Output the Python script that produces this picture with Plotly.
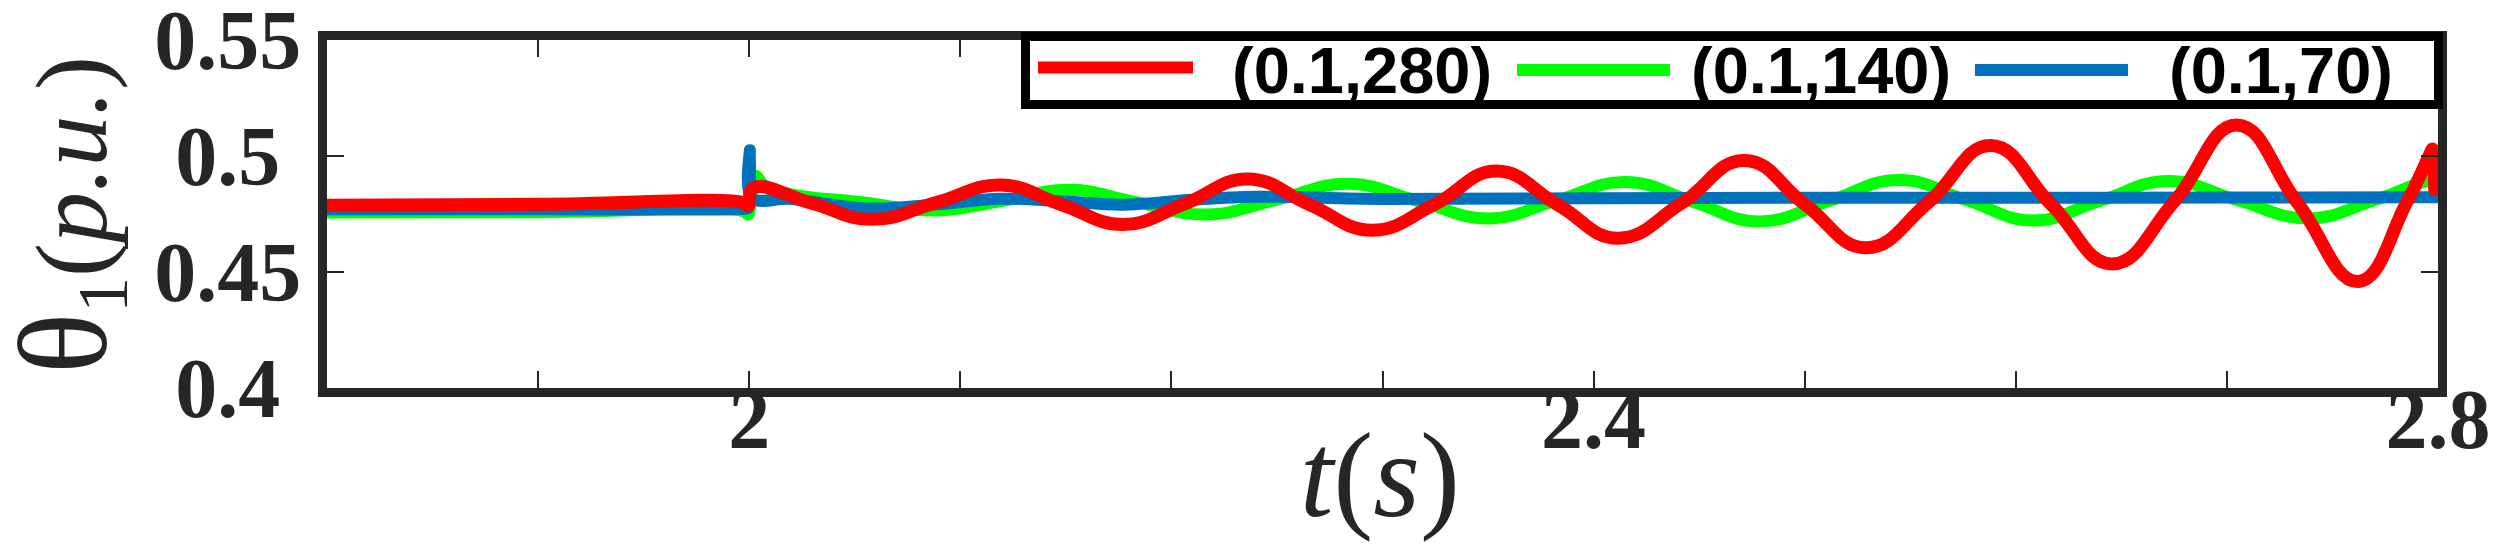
import plotly.graph_objects as go

# ---------------- data ----------------
# red  : (0.1,280)
t_red = [1.8, 1.9, 1.998, 1.9995, 2.002, 2.03, 2.058, 2.089, 2.1193, 2.148, 2.1771,
         2.2066, 2.2361, 2.2655, 2.295, 2.3245, 2.354, 2.383, 2.4116, 2.4415, 2.4715,
         2.5003, 2.5291, 2.5586, 2.5881, 2.6169, 2.6457, 2.6752, 2.7047, 2.7335, 2.7622,
         2.785, 2.796, 2.7975, 2.7985, 2.7995]
v_red = [0.4788, 0.4792, 0.4797, 0.4786, 0.4862, 0.4795, 0.4727, 0.4800, 0.4875, 0.4790, 0.4705,
         0.4795, 0.4901, 0.4790, 0.4680, 0.4790, 0.4935, 0.4790, 0.4646, 0.4795, 0.4981,
         0.4790, 0.4604, 0.4800, 0.5045, 0.4790, 0.4535, 0.4805, 0.5134, 0.4797, 0.4459,
         0.4797, 0.5005, 0.5030, 0.4855, 0.5000]

# green: (0.1,140)
t_green = [1.8, 1.9, 1.998, 1.9995, 2.0025, 2.008, 2.02, 2.0541, 2.0866, 2.119, 2.1516,
           2.184, 2.2167, 2.25, 2.2842, 2.317, 2.3503, 2.383, 2.4154, 2.447, 2.4786,
           2.5117, 2.5447, 2.5765, 2.6084, 2.64, 2.6721, 2.705, 2.7386, 2.77, 2.797, 2.7995]
v_green = [0.4757, 0.4758, 0.4760, 0.4748, 0.4915, 0.4865, 0.4835, 0.4800, 0.4765, 0.4805, 0.4854,
           0.4800, 0.4748, 0.4812, 0.4880, 0.4805, 0.4731, 0.4810, 0.4888, 0.4803, 0.4718,
           0.4807, 0.4897, 0.4810, 0.4722, 0.4807, 0.4892, 0.4810, 0.4731, 0.4810, 0.4893, 0.4880]

# blue : (0.1,70)
t_blue = [1.8, 1.9, 1.998, 1.9995, 2.0003, 2.0012, 2.02, 2.056, 2.087, 2.119, 2.148,
          2.177, 2.21, 2.24, 2.3, 2.4, 2.5, 2.6, 2.7, 2.8]
v_blue = [0.4770, 0.4771, 0.4772, 0.4775, 0.5025, 0.4820, 0.4815, 0.4774, 0.4790, 0.4816, 0.4805,
          0.4790, 0.4812, 0.4824, 0.4815, 0.4818, 0.4820, 0.4820, 0.4821, 0.4822]

series_names = ["(0.1,280)", "(0.1,140)", "(0.1,70)"]
series_colors = ["#FF0000", "#00FF00", "#0072BD"]

x_tick_vals = [1.8, 1.9, 2.0, 2.1, 2.2, 2.3, 2.4, 2.5, 2.6, 2.7, 2.8]
x_tick_text = ["", "", "2", "", "", "", "2.4", "", "", "", "2.8"]
y_tick_vals = [0.4, 0.45, 0.5, 0.55]
y_tick_text = ["0.4", "0.45", "0.5", "0.55"]
x_title = "<i>t</i>(<i>s</i>)"
y_title = "<span style='font-size:128px'>θ</span><sub>1</sub>(<i>p.u.</i>)"

x_range = [1.8, 2.8]
y_range = [0.4, 0.55]

# ---------------- layout geometry ----------------
PAGE_OFF = 8                      # default body margin of the html page
FIG_W, FIG_H = 2499 - PAGE_OFF, 551 - PAGE_OFF
M_L, M_R, M_T, M_B = 319, 61, 32, 163
PLOT_W = FIG_W - M_L - M_R
PLOT_H = FIG_H - M_T - M_B
AX_COLOR = "#262626"


def px_x(px):
    """page pixel -> paper x"""
    return (px - PAGE_OFF - M_L) / PLOT_W


def px_y(py):
    """page pixel -> paper y"""
    return 1 - (py - PAGE_OFF - M_T) / PLOT_H


fig = go.Figure()
# draw order: green, blue, red (red on top)
fig.add_trace(go.Scatter(x=t_green, y=v_green, mode="lines", name=series_names[1],
                         line=dict(color=series_colors[1], width=12, shape="spline", smoothing=1.3),
                         showlegend=False))
fig.add_trace(go.Scatter(x=t_blue, y=v_blue, mode="lines", name=series_names[2],
                         line=dict(color=series_colors[2], width=12, shape="spline", smoothing=1.0),
                         showlegend=False))
fig.add_trace(go.Scatter(x=t_red, y=v_red, mode="lines", name=series_names[0],
                         line=dict(color=series_colors[0], width=13, shape="spline", smoothing=1.3),
                         showlegend=False))

# centred-looking y tick labels (pad the short ones by a quarter-em space)
y_tick_text_padded = [s if len(s) >= 4 else s + "\u2005" for s in y_tick_text]
tickfont = dict(family="Liberation Serif", size=84, color=AX_COLOR, weight="bold")

fig.update_layout(
    width=FIG_W, height=FIG_H,
    margin=dict(l=M_L, r=M_R, t=M_T, b=M_B, pad=0),
    paper_bgcolor="white", plot_bgcolor="white",
    showlegend=False,
    xaxis=dict(range=x_range, tickmode="array", tickvals=x_tick_vals, ticktext=x_tick_text,
               showline=True, linewidth=9, linecolor=AX_COLOR, mirror="ticks",
               ticks="inside", ticklen=17, tickwidth=1.5, tickcolor=AX_COLOR,
               showgrid=False, zeroline=False, tickfont=tickfont, automargin=False,
               ticklabeloverflow="allow", ticklabelstandoff=-50),
    yaxis=dict(range=y_range, tickmode="array", tickvals=y_tick_vals, ticktext=y_tick_text_padded,
               showline=True, linewidth=9, linecolor=AX_COLOR, mirror="ticks",
               ticks="inside", ticklen=17, tickwidth=1.5, tickcolor=AX_COLOR,
               showgrid=False, zeroline=False, tickfont=tickfont, automargin=False,
               ticklabeloverflow="allow"),
)

# axis titles placed as annotations (exact position control)
fig.add_annotation(text=x_title, xref="paper", yref="paper", x=px_x(1380), y=px_y(475),
                   xanchor="center", yanchor="middle", showarrow=False,
                   font=dict(family="Liberation Serif", size=120, color=AX_COLOR))
fig.add_annotation(text=y_title, xref="paper", yref="paper", x=px_x(67), y=px_y(215),
                   xanchor="center", yanchor="middle", showarrow=False, textangle=-90,
                   font=dict(family="Liberation Serif", size=102, color=AX_COLOR))

# ---------------- custom legend (box, sample lines, labels) ----------------
legend_box_px = (1025.5, 36.5, 2438.5, 104.5)
fig.add_shape(type="rect", xref="paper", yref="paper",
              x0=px_x(legend_box_px[0]), x1=px_x(legend_box_px[2]),
              y0=px_y(legend_box_px[3]), y1=px_y(legend_box_px[1]),
              line=dict(color="black", width=9), fillcolor="white", layer="above")

sample_px = [(1038, 1193, 67.5), (1517, 1670, 70), (1975, 2128, 70)]
label_px = [(1362, 71), (1821, 71), (2281, 71)]
for name, color, (sx0, sx1, sy), (lx, ly) in zip(series_names, series_colors, sample_px, label_px):
    fig.add_shape(type="line", xref="paper", yref="paper",
                  x0=px_x(sx0), x1=px_x(sx1), y0=px_y(sy), y1=px_y(sy),
                  line=dict(color=color, width=12), layer="above")
    fig.add_annotation(text=name, xref="paper", yref="paper", x=px_x(lx), y=px_y(ly),
                       xanchor="center", yanchor="middle", showarrow=False,
                       font=dict(family="Liberation Sans", size=65, color="black", weight="bold"))

fig.write_html("out.html")
